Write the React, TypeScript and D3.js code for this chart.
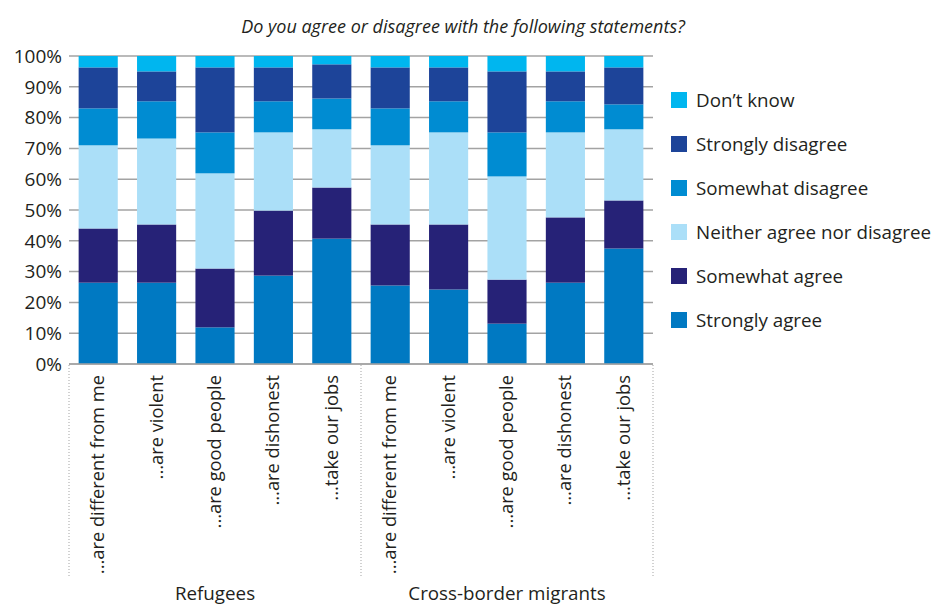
import React from "react";
import * as d3 from "d3";

const statements = [
  "...are different from me",
  "...are violent",
  "...are good people",
  "...are dishonest",
  "...take our jobs",
];
const groups = ["Refugees", "Cross-border migrants"];

const seriesNames = [
  "Strongly agree",
  "Somewhat agree",
  "Neither agree nor disagree",
  "Somewhat disagree",
  "Strongly disagree",
  "Don\u2019t know",
];
const seriesColors = ["#0079c2", "#262277", "#abdff8", "#008cd2", "#1d4499", "#00b6ef"];

// order: Refugees (5 statements), then Cross-border migrants (5 statements)
const stronglyAgree = [26.4, 26.4, 11.9, 28.7, 40.7, 25.5, 24.2, 13.1, 26.4, 37.5];
const somewhatAgree = [17.6, 18.9, 19.1, 21.1, 16.6, 19.8, 21.1, 14.3, 21.2, 15.6];
const neither = [27.0, 27.9, 30.9, 25.4, 18.9, 25.7, 29.9, 33.5, 27.6, 23.1];
const somewhatDisagree = [12.0, 12.1, 13.3, 10.1, 10.0, 12.0, 10.1, 14.3, 10.1, 8.1];
const stronglyDisagree = [13.3, 9.7, 21.1, 11.0, 11.1, 13.3, 11.0, 19.8, 9.7, 12.0];
const dontKnow = [3.7, 5.0, 3.7, 3.7, 2.7, 3.7, 3.7, 5.0, 5.0, 3.7];

const yTicks = [0, 10, 20, 30, 40, 50, 60, 70, 80, 90, 100];

const FONT = "'Open Sans', 'Noto Sans', sans-serif";

export default function App() {
  const W = 934;
  const H = 605;
  const left = 69;
  const right = 653;
  const top = 56;
  const bottom = 364;

  const keys = groups.flatMap((g) => statements.map((s) => g + "|" + s));
  const allSeries = [stronglyAgree, somewhatAgree, neither, somewhatDisagree, stronglyDisagree, dontKnow];
  const rows = keys.map((k, i) => {
    const r: any = { key: k };
    seriesNames.forEach((n, j) => (r[n] = allSeries[j][i]));
    return r;
  });
  const stacked = d3.stack<any>().keys(seriesNames)(rows);

  const x = d3.scaleBand<string>().domain(keys).range([left, right]).paddingInner(0.33).paddingOuter(0.165);
  const y = d3.scaleLinear().domain([0, 100]).range([bottom, top]);

  const step = x.step();
  const sepXs = [left, left + step * statements.length, right];
  const groupCenters = groups.map((_, gi) => left + step * statements.length * (gi + 0.5));

  const legendOrder = [...seriesNames].reverse();
  const legendColors = [...seriesColors].reverse();

  return (
    <svg width={W} height={H} style={{ position: "absolute", left: 0, top: 0, background: "#fff" }} fontFamily={FONT}>
      <text x={463} y={33} textAnchor="middle" fontSize={18} fontStyle="italic" fill="#231f20">
        Do you agree or disagree with the following statements?
      </text>

      {yTicks.map((t) => (
        <g key={t}>
          <line x1={left} x2={right} y1={y(t)} y2={y(t)} stroke="#a3a3a3" strokeWidth={1.5} />
          <text x={62} y={y(t)} dy="0.36em" textAnchor="end" fontSize={19} fill="#231f20">
            {t}%
          </text>
        </g>
      ))}

      {stacked.map((layer, li) => (
        <g key={layer.key} fill={seriesColors[li]}>
          {layer.map((d, i) => (
            <rect
              key={i}
              x={x(keys[i])}
              width={x.bandwidth()}
              y={y(d[1])}
              height={y(d[0]) - y(d[1])}
            />
          ))}
        </g>
      ))}

      <line x1={left} x2={right} y1={bottom} y2={bottom} stroke="#a3a3a3" strokeWidth={1.5} />

      {sepXs.map((sx, i) => (
        <line key={i} x1={sx} x2={sx} y1={bottom + 1} y2={578} stroke="#a3a3a3" strokeWidth={1} strokeDasharray="1,2" />
      ))}

      {keys.map((k, i) => {
        const cx = (x(k) as number) + x.bandwidth() / 2;
        const label = statements[i % statements.length];
        return (
          <text
            key={k}
            transform={`translate(${cx + 6},${375}) rotate(-90)`}
            textAnchor="end"
            fontSize={18.3}
            fill="#231f20"
          >
            {label}
          </text>
        );
      })}

      {groups.map((g, i) => (
        <text key={g} x={groupCenters[i]} y={600} textAnchor="middle" fontSize={18.8} fill="#231f20">
          {g}
        </text>
      ))}

      {legendOrder.map((n, i) => {
        const cy = 100 + i * 44;
        return (
          <g key={n}>
            <rect x={671} y={cy - 8} width={16} height={16} fill={legendColors[i]} />
            <text x={696} y={cy} dy="0.36em" fontSize={18.8} fill="#231f20">
              {n}
            </text>
          </g>
        );
      })}
    </svg>
  );
}
